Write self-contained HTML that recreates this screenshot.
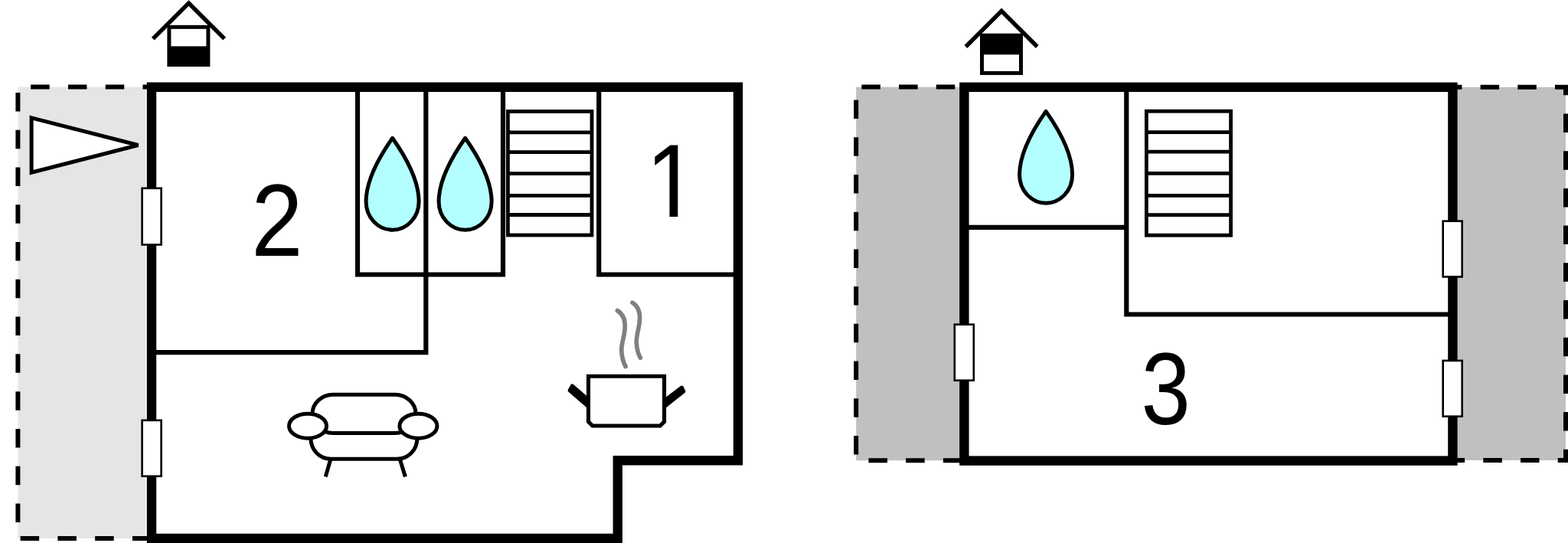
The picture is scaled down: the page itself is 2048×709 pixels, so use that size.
<!DOCTYPE html>
<html><head><meta charset="utf-8"><title>Floor plan</title>
<style>
html,body{margin:0;padding:0;background:#fff;}
body{width:2048px;height:709px;overflow:hidden;}
svg{display:block;}
</style></head>
<body>
<svg width="2048" height="709" viewBox="0 0 2048 709">
<rect x="0" y="0" width="2048" height="709" fill="#fff"/>
<rect x="23.4" y="113.5" width="166.9" height="589.5" fill="#e5e5e5"/>
<path d="M198,113.5 H23.4 V703 H198" fill="none" stroke="#000" stroke-width="6" stroke-dasharray="24.5 24.27" stroke-dashoffset="13"/>
<path d="M41.1,153.8 L180.45,189.5 L41.1,225.2 Z" fill="#fff" stroke="#000" stroke-width="5" stroke-miterlimit="3"/>
<g fill="none" stroke="#000" stroke-width="6.2" stroke-linejoin="miter">
<path d="M467,114 V358.5 H657 V114"/>
<path d="M556.3,114 V460.1 H198"/>
<path d="M782.2,114 V358.5 H964"/>
</g>
<path d="M198,113.8 H964 V601.3 H806.8 V703 H198 Z" fill="none" stroke="#000" stroke-width="12.4" stroke-linejoin="miter"/>
<rect x="185.6" y="245.8" width="25.0" height="73.69999999999996" fill="#fff" stroke="#000" stroke-width="2.6"/>
<rect x="185.6" y="548.8" width="25.0" height="73.00000000000003" fill="#fff" stroke="#000" stroke-width="2.6"/>
<path d="M512.6,180.3 C524.6,197.3 547.1,232.3 547.1,263.2 A34.5,37.0 0 0 1 478.1,263.2 C478.1,232.3 500.6,197.3 512.6,180.3 Z" fill="#b3ffff" stroke="#000" stroke-width="5" stroke-linejoin="round"/>
<path d="M607.6,180.3 C619.6,197.3 642.1,232.3 642.1,263.2 A34.5,37.0 0 0 1 573.1,263.2 C573.1,232.3 595.6,197.3 607.6,180.3 Z" fill="#b3ffff" stroke="#000" stroke-width="5" stroke-linejoin="round"/>
<rect x="663.4" y="145.5" width="109.60000000000002" height="161.5" fill="#fff" stroke="#000" stroke-width="4.8"/><line x1="663.4" y1="172.8" x2="773" y2="172.8" stroke="#000" stroke-width="4.8"/><line x1="663.4" y1="198.6" x2="773" y2="198.6" stroke="#000" stroke-width="4.8"/><line x1="663.4" y1="226.7" x2="773" y2="226.7" stroke="#000" stroke-width="4.8"/><line x1="663.4" y1="255.4" x2="773" y2="255.4" stroke="#000" stroke-width="4.8"/><line x1="663.4" y1="280.5" x2="773" y2="280.5" stroke="#000" stroke-width="4.8"/>
<clipPath id="c1"><path d="M830,170 H910 V272 H885.34 V290 H874.46 V272 H830 Z"/></clipPath>
<g clip-path="url(#c1)"><text transform="translate(843.5,282.8) scale(0.91,1)" font-family="'Liberation Sans', Arial, sans-serif" font-size="135.3" fill="#000">1</text></g>
<text transform="translate(328.3,333.8) scale(0.905,1)" font-family="'Liberation Sans', Arial, sans-serif" font-size="133.6" fill="#000">2</text>
<polyline points="199.8,50.7 246.5,4.1 293.2,50.7" fill="none" stroke="#000" stroke-width="5.4" stroke-linejoin="miter"/><rect x="220.9" y="35.3" width="50.99999999999997" height="49.2" fill="#fff" stroke="#000" stroke-width="5.0"/><rect x="220.9" y="60.4" width="50.99999999999997" height="24.1" fill="#000"/>
<g fill="none" stroke="#000" stroke-width="5">
<rect x="408" y="515.3" width="135" height="50.1" rx="27" ry="25" />
<path d="M405.9,572 C405.9,587.6 417.5,599.3 432.4,599.3 H518.3 C533.2,599.3 544.9,587.6 544.9,572"/>
<ellipse cx="402" cy="556.2" rx="24.5" ry="16" fill="#fff"/>
<ellipse cx="546.4" cy="556.2" rx="24.5" ry="16" fill="#fff"/>
<line x1="431.9" y1="599.3" x2="425.2" y2="622.5"/>
<line x1="522.2" y1="599.3" x2="529.4" y2="622.5"/>
</g>
<g fill="#000" stroke="#000" stroke-width="5" stroke-linejoin="round"><path d="M747.4,503.9 L770,523.4 V532 L744.2,509.8 Z"/><path d="M890.5,506 L866,524.4 V532.3 L892.8,511.1 Z"/></g>
<path d="M768.5,491.3 H867.6 V550.6 L862.2,556 H773.9 L768.5,550.6 Z" fill="#fff" stroke="#000" stroke-width="5.1"/>
<g fill="none" stroke="#808080" stroke-width="5.7" stroke-linecap="round">
<path d="M806.4,405.5 C813.5,410 816.6,417 816.3,427 C815.9,440 811.3,448 811.8,458 C812.2,466 814,473 817.1,478.5"/>
<path d="M826,395.2 C832.8,399.5 835.9,406 835.6,416 C835.3,428 831,437 831.3,447 C831.6,455 833.5,462 836.4,467.2"/>
</g>
<rect x="1118.2" y="113.6" width="141.2" height="487.6" fill="#c0c0c0"/>
<rect x="1897.4" y="113.8" width="147.6" height="487.2" fill="#c0c0c0"/>
<path d="M1259.4,113.6 H1118.2 V601.3 H1259.4" fill="none" stroke="#000" stroke-width="6" stroke-dasharray="24.5 24.2" stroke-dashoffset="36.6"/>
<path d="M1897.4,113.8 H2045 V601 H1897.4" fill="none" stroke="#000" stroke-width="6" stroke-dasharray="24.5 24.2" stroke-dashoffset="12.5"/>
<g fill="none" stroke="#000" stroke-width="6.2" stroke-linejoin="miter">
<path d="M1259.4,296.8 H1471.3"/>
<path d="M1471.3,114 V410.5 H1897"/>
</g>
<rect x="1259.4" y="113.8" width="638" height="487.8" fill="none" stroke="#000" stroke-width="12.4"/>
<rect x="1246.8" y="423.70000000000005" width="25.0" height="72.99999999999997" fill="#fff" stroke="#000" stroke-width="2.6"/>
<rect x="1884.7" y="288.70000000000005" width="25.0" height="72.69999999999996" fill="#fff" stroke="#000" stroke-width="2.6"/>
<rect x="1884.7" y="470.90000000000003" width="25.0" height="72.79999999999998" fill="#fff" stroke="#000" stroke-width="2.6"/>
<path d="M1366.1,145.4 C1378.1,162.4 1400.6,197.4 1400.6,228.2 A34.5,37.0 0 0 1 1331.6,228.2 C1331.6,197.4 1354.1,162.4 1366.1,145.4 Z" fill="#b3ffff" stroke="#000" stroke-width="5" stroke-linejoin="round"/>
<rect x="1497.4" y="145.2" width="110.19999999999982" height="162.0" fill="#fff" stroke="#000" stroke-width="4.8"/><line x1="1497.4" y1="172.7" x2="1607.6" y2="172.7" stroke="#000" stroke-width="4.8"/><line x1="1497.4" y1="198.1" x2="1607.6" y2="198.1" stroke="#000" stroke-width="4.8"/><line x1="1497.4" y1="226.3" x2="1607.6" y2="226.3" stroke="#000" stroke-width="4.8"/><line x1="1497.4" y1="255.3" x2="1607.6" y2="255.3" stroke="#000" stroke-width="4.8"/><line x1="1497.4" y1="280.6" x2="1607.6" y2="280.6" stroke="#000" stroke-width="4.8"/>
<text transform="translate(1490.4,553.5) scale(0.865,1)" font-family="'Liberation Sans', Arial, sans-serif" font-size="133.9" fill="#000">3</text>
<polyline points="1261.3999999999999,61.0 1308.1,14.4 1354.8,61.0" fill="none" stroke="#000" stroke-width="5.4" stroke-linejoin="miter"/><rect x="1282.5" y="46.2" width="51.0" height="49.2" fill="#fff" stroke="#000" stroke-width="5.0"/><rect x="1282.5" y="46.2" width="51.0" height="25.099999999999994" fill="#000"/>
</svg>
</body></html>
